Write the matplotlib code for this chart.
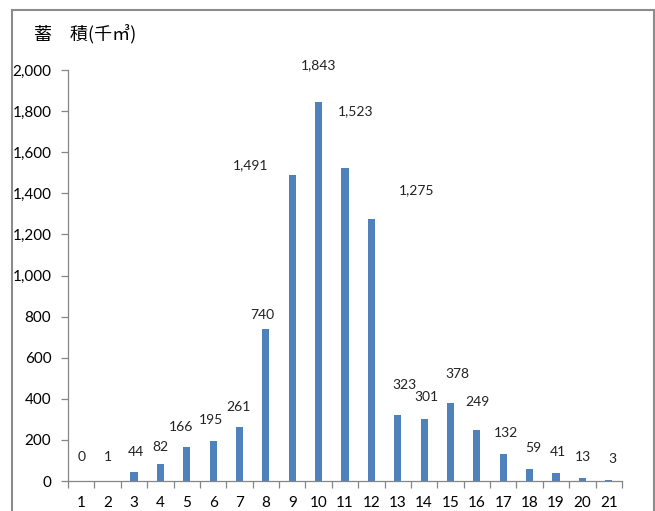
import matplotlib.pyplot as plt
from matplotlib.patches import Rectangle
from matplotlib.ticker import FuncFormatter, FixedLocator

plt.rcParams['font.family'] = ['Lato', 'Noto Sans CJK JP', 'DejaVu Sans']

# 齢級ごとの蓄積(千㎥)
classes = [str(i) for i in range(1, 22)]
volume = [0, 1, 44, 82, 166, 195, 261, 740, 1491, 1843, 1523,
          1275, 323, 301, 378, 249, 132, 59, 41, 13, 3]

# data label nudges (pixels) so the labels do not collide
label_dx = [0, 0, 2, 0, -6, -2, -1, -4, -42, 0, 11,
            45, 7, 2, 7, 1, 3, 4, 2, 1, 4]
label_dy = [24, 24, 20, 17, 20, 21, 20, 14, 9, 37, 57,
            29, 30, 22, 29, 28, 21, 21, 21, 21, 21]

fig = plt.figure(figsize=(6.55, 5.11), dpi=100)
ax = fig.add_axes([0.1038, 0.0587, 0.8458, 0.8043])

x = list(range(len(classes)))
ax.bar(x, volume, width=0.27, color='#4F81BD', zorder=2)

for xi, v, dx, dy in zip(x, volume, label_dx, label_dy):
    ax.annotate(f'{v:,}', (xi, v), xytext=(dx, dy), textcoords='offset pixels',
                ha='center', va='center', fontsize=10, color='#222222')

ax.set_xlim(-0.5, len(classes) - 0.5)
ax.set_ylim(0, 2000)
ax.set_yticks(range(0, 2001, 200))
ax.yaxis.set_major_formatter(FuncFormatter(lambda v, p: f'{int(v):,}'))
ax.set_xticks(x)
ax.set_xticklabels(classes)
ax.xaxis.set_minor_locator(FixedLocator([i - 0.5 for i in range(len(classes) + 1)]))
ax.tick_params(axis='x', which='major', length=0, pad=11, labelsize=11)
ax.tick_params(axis='x', which='minor', length=5, color='#868686', width=0.9)
ax.tick_params(axis='y', length=5, color='#868686', width=0.9, pad=7, labelsize=11)

for side in ('top', 'right'):
    ax.spines[side].set_visible(False)
for side in ('left', 'bottom'):
    ax.spines[side].set_color('#868686')
    ax.spines[side].set_linewidth(0.9)

fig.text(34 / 655, 1 - 35 / 511, '蓄　積(千㎥)', fontsize=13,
         family=['Noto Sans CJK JP', 'DejaVu Sans'], va='center', ha='left')

# chart area frame
fig.patches.append(Rectangle((12 / 655, -0.05), 642 / 655, 1.05 - 10 / 511,
                             transform=fig.transFigure, fill=False,
                             edgecolor='#8c8c8c', linewidth=1.5))

fig.savefig('out.png', dpi=100)
